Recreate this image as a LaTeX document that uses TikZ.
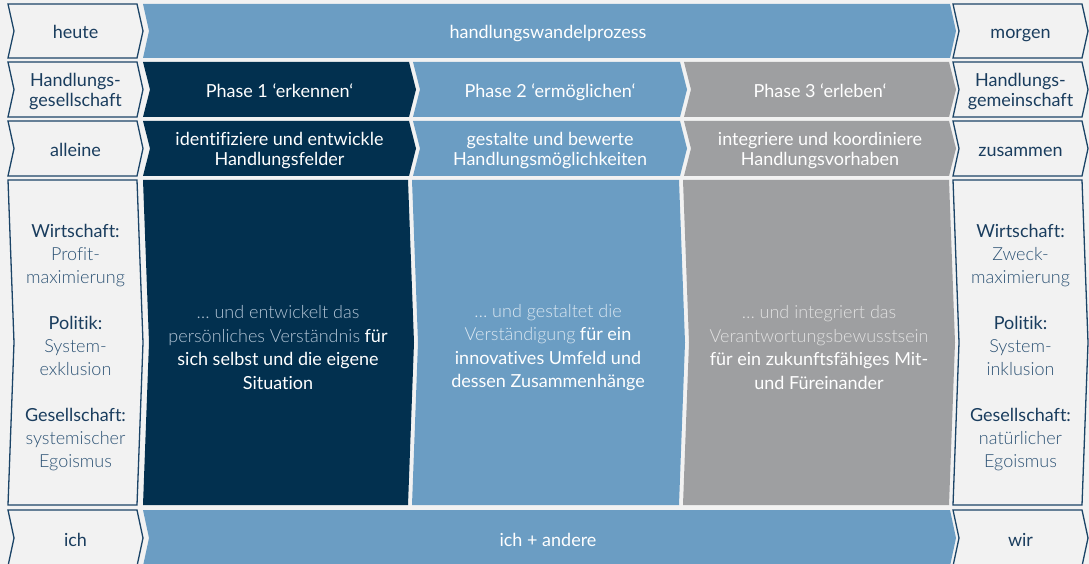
\documentclass[tikz,border=0pt]{standalone}
\usepackage{fontspec}
\setmainfont{Lato}[Ligatures=NoCommon]
\newfontfamily\lightfont{Lato Light}[Ligatures=NoCommon]
\definecolor{bgcol}{HTML}{F2F2F2}
\definecolor{navy}{HTML}{02304F}
\definecolor{midblue}{HTML}{6B9DC3}
\definecolor{midgray}{HTML}{9E9FA1}
\definecolor{edge}{HTML}{1B4467}
\definecolor{lbltext}{HTML}{1A3D5E}
\definecolor{subtext}{HTML}{2C5274}
\definecolor{lightA}{HTML}{B3C5D6}
\definecolor{lightB}{HTML}{DCE8F2}
\definecolor{lightC}{HTML}{E2E2E2}
\newcommand\chevshape[6]{%
  \path[#1] (#2,#4) -- (#3,#4) -- ({#3+#6},{(#4+#5)/2}) -- (#3,#5) -- (#2,#5) -- ({#2+#6},{(#4+#5)/2}) -- cycle;}
\tikzset{
  sidebox/.style={fill=bgcol, draw=edge, line width=1.3pt, line join=miter},
  lbl/.style={text=lbltext, font=\fontsize{18}{20}\selectfont, align=center, text height=13pt, text depth=3.7pt, inner sep=0pt},
  wlbl/.style={text=white, font=\fontsize{18}{20}\selectfont, align=center, text height=13pt, text depth=3.7pt, inner sep=0pt},
  mlbl/.style={text=lbltext, font=\fontsize{18}{20}\selectfont, align=center, inner sep=0pt},
  mwlbl/.style={text=white, font=\fontsize{18}{20}\selectfont, align=center, inner sep=0pt},
  bodytext/.style={text=white, font=\fontsize{18}{23.5}\selectfont, align=center, inner sep=0pt},
  sidetext/.style={text=lbltext, font=\fontsize{18}{23}\selectfont, align=center, inner sep=0pt}
}
\begin{document}
\begin{tikzpicture}[x=1pt,y=-1pt]
\useasboundingbox (0,0) rectangle (1089,564);
\fill[bgcol] (0,0) rectangle (1089,564);
\begin{scope}
\clip (0,0) rectangle (1089,564);
% row 1
\chevshape{sidebox}{8}{137}{4}{58}{6}
\chevshape{fill=midblue}{143}{950}{4}{58}{6}
\chevshape{sidebox}{953}{1082}{4}{58}{6}
% row 2
\chevshape{sidebox}{8}{137}{62}{117}{6}
\chevshape{fill=navy}{143}{409}{62}{117}{7}
\chevshape{fill=midblue}{413}{680}{62}{117}{7}
\chevshape{fill=midgray}{684}{949}{62}{117}{7}
\chevshape{sidebox}{953}{1082}{62}{117}{6}
% row 3
\chevshape{sidebox}{8}{137}{121}{176}{6}
\chevshape{fill=navy}{143}{409}{121}{176}{7}
\chevshape{fill=midblue}{413}{680}{121}{176}{7}
\chevshape{fill=midgray}{684}{949}{121}{176}{7}
\chevshape{sidebox}{953}{1082}{121}{176}{6}
% row 4
\chevshape{sidebox}{8}{137}{180}{505}{6}
\chevshape{fill=navy}{143}{408}{180}{505}{6}
\chevshape{fill=midblue}{412}{679}{180}{505}{6}
\chevshape{fill=midgray}{683}{949}{180}{505}{6}
\chevshape{sidebox}{953}{1082}{180}{505}{6}
% row 5
\chevshape{sidebox}{8}{137}{510}{566}{6}
\chevshape{fill=midblue}{143}{950}{510}{566}{6}
\chevshape{sidebox}{953}{1082}{510}{566}{6}
\end{scope}
% texts row 1
\node[lbl] (heute) at (75.5,33.5) {heute};
\node[wlbl] (prozess) at (548,33.5) {handlungswandelprozess};
\node[lbl] (morgen) at (1020.5,33.5) {morgen};
% row 2
\node[mlbl] (hges) at (75.5,91.5) {Handlungs-\\gesellschaft};
\node[wlbl] (ph1) at (279.5,93) {Phase 1 ‘erkennen‘};
\node[wlbl] (ph2) at (550,93) {Phase 2 ‘ermöglichen‘};
\node[wlbl] (ph3) at (820,93) {Phase 3 ‘erleben‘};
\node[mlbl] (hgem) at (1020.5,91.5) {Handlungs-\\gemeinschaft};
% row 3
\node[lbl] (alleine) at (75.5,152) {alleine};
\node[mwlbl] (do1) at (279.5,151) {identifiziere und entwickle\\Handlungsfelder};
\node[mwlbl] (do2) at (550,151) {gestalte und bewerte\\Handlungsmöglichkeiten};
\node[mwlbl] (do3) at (820,151) {integriere und koordiniere\\Handlungsvorhaben};
\node[lbl] (zusammen) at (1020.5,152) {zusammen};
% row 4
\node[sidetext] (links) at (75.5,348) {Wirtschaft:\\{\lightfont\color{subtext}Profit-}\\{\lightfont\color{subtext}maximierung}\\[23pt]Politik:\\{\lightfont\color{subtext}System-}\\{\lightfont\color{subtext}exklusion}\\[23pt]Gesellschaft:\\{\lightfont\color{subtext}systemischer}\\{\lightfont\color{subtext}Egoismus}};
\node[bodytext] (txt1) at (278,347.5) {{\lightfont\color{lightA}… und entwickelt das}\\{\lightfont\color{lightA}persönliches Verständnis} für\\sich selbst und die eigene\\Situation};
\node[bodytext] (txt2) at (548,347.5) {{\lightfont\color{lightB}… und gestaltet die}\\{\lightfont\color{lightB}Verständigung} für ein\\innovatives Umfeld und\\dessen Zusammenhänge};
\node[bodytext] (txt3) at (819,347.5) {{\lightfont\color{lightC}… und integriert das}\\{\lightfont\color{lightC}Verantwortungsbewusstsein}\\für ein zukunftsfähiges Mit-\\und Füreinander};
\node[sidetext] (rechts) at (1020.5,348) {Wirtschaft:\\{\lightfont\color{subtext}Zweck-}\\{\lightfont\color{subtext}maximierung}\\[23pt]Politik:\\{\lightfont\color{subtext}System-}\\{\lightfont\color{subtext}inklusion}\\[23pt]Gesellschaft:\\{\lightfont\color{subtext}natürlicher}\\{\lightfont\color{subtext}Egoismus}};
% row 5
\node[lbl] (ich) at (75.5,542) {ich};
\node[wlbl] (andere) at (548,542) {ich + andere};
\node[lbl] (wir) at (1020.5,542) {wir};
\end{tikzpicture}
\end{document}
